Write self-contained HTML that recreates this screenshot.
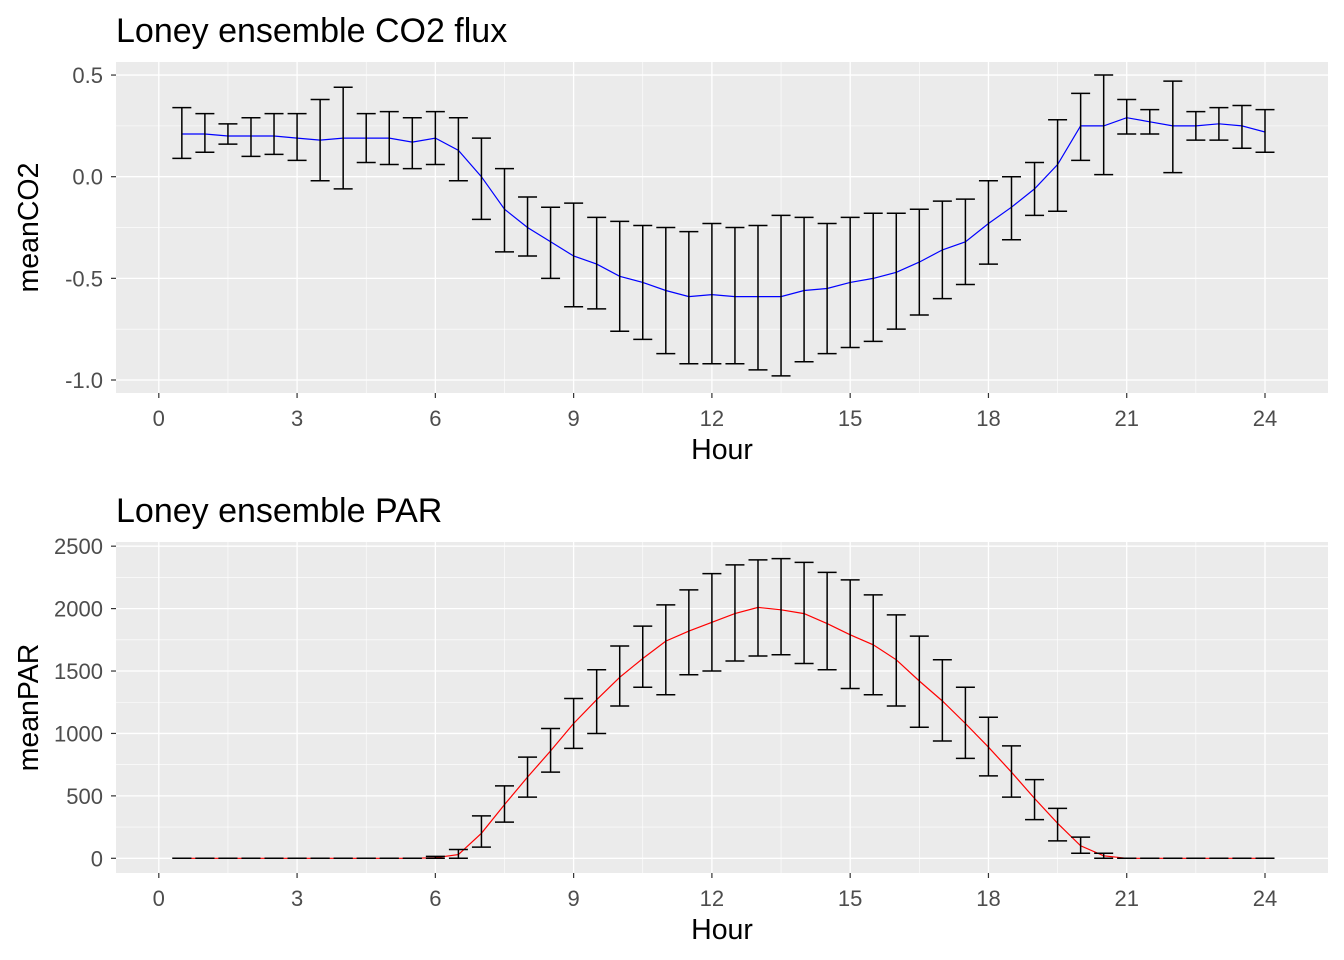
<!DOCTYPE html>
<html><head><meta charset="utf-8"><style>
html,body{margin:0;padding:0;background:#fff;}
svg{display:block;font-family:"Liberation Sans",Arial,sans-serif;}
</style></head><body>
<svg id="chart" width="1344" height="960"></svg>
<script>
const hours=[0.5,1,1.5,2,2.5,3,3.5,4,4.5,5,5.5,6,6.5,7,7.5,8,8.5,9,9.5,10,10.5,11,11.5,12,12.5,13,13.5,14,14.5,15,15.5,16,16.5,17,17.5,18,18.5,19,19.5,20,20.5,21,21.5,22,22.5,23,23.5,24];
const co2Mean=[0.21,0.21,0.20,0.20,0.20,0.19,0.18,0.19,0.19,0.19,0.17,0.19,0.13,0.0,-0.16,-0.25,-0.32,-0.39,-0.43,-0.49,-0.52,-0.56,-0.59,-0.58,-0.59,-0.59,-0.59,-0.56,-0.55,-0.52,-0.50,-0.47,-0.42,-0.36,-0.32,-0.23,-0.15,-0.06,0.06,0.25,0.25,0.29,0.27,0.25,0.25,0.26,0.25,0.22];
const co2Upper=[0.34,0.31,0.26,0.29,0.31,0.31,0.38,0.44,0.31,0.32,0.29,0.32,0.29,0.19,0.04,-0.10,-0.15,-0.13,-0.20,-0.22,-0.24,-0.25,-0.27,-0.23,-0.25,-0.24,-0.19,-0.20,-0.23,-0.20,-0.18,-0.18,-0.16,-0.12,-0.11,-0.02,0.00,0.07,0.28,0.41,0.50,0.38,0.33,0.47,0.32,0.34,0.35,0.33];
const co2Lower=[0.09,0.12,0.16,0.10,0.11,0.08,-0.02,-0.06,0.07,0.06,0.04,0.06,-0.02,-0.21,-0.37,-0.39,-0.50,-0.64,-0.65,-0.76,-0.80,-0.87,-0.92,-0.92,-0.92,-0.95,-0.98,-0.91,-0.87,-0.84,-0.81,-0.75,-0.68,-0.60,-0.53,-0.43,-0.31,-0.19,-0.17,0.08,0.01,0.21,0.21,0.02,0.18,0.18,0.14,0.12];
const parMean=[0,0,0,0,0,0,0,0,0,0,0,5,30,200,430,650,860,1080,1270,1450,1600,1740,1820,1890,1960,2010,1990,1960,1880,1790,1710,1590,1420,1260,1080,890,690,480,280,100,20,0,0,0,0,0,0,0];
const parUpper=[0,0,0,0,0,0,0,0,0,0,0,15,70,340,580,810,1040,1280,1510,1700,1860,2030,2150,2280,2350,2390,2400,2370,2290,2230,2110,1950,1780,1590,1370,1130,900,630,400,170,40,0,0,0,0,0,0,0];
const parLower=[0,0,0,0,0,0,0,0,0,0,0,0,0,90,290,490,690,880,1000,1220,1370,1310,1470,1500,1580,1620,1630,1560,1510,1360,1310,1220,1050,940,800,660,490,310,140,40,0,0,0,0,0,0,0,0];
const xTicks=[0,3,6,9,12,15,18,21,24];
const co2Ticks=[0.5,0,-0.5,-1.0];
const co2TickLabels=["0.5","0.0","-0.5","-1.0"];
const parTicks=[0,500,1000,1500,2000,2500];
const parTickLabels=["0","500","1000","1500","2000","2500"];

const NS="http://www.w3.org/2000/svg";
const svg=document.getElementById('chart');
function mk(tag,attrs,parent){const e=document.createElementNS(NS,tag);for(const k in attrs)e.setAttribute(k,attrs[k]);(parent||svg).appendChild(e);return e;}
const xs=h=>158.8+(1265-158.8)*h/24;

function panel(cfg){
  const g=mk('g',{});
  
  
  const L=116,R=1328,T=cfg.top,B=cfg.top+331;
  const bg=mk('rect',{x:L,y:T,width:R-L,height:B-T,fill:'#EBEBEB'},g);
  
  
  for(let i=0;i<cfg.ticks.length-1;i++){const v=(cfg.ticks[i]+cfg.ticks[i+1])/2;const y=cfg.ys(v);mk('line',{x1:L,x2:R,y1:y,y2:y,stroke:'#fff','stroke-width':0.6},g);}
  for(let i=0;i<xTicks.length-1;i++){const x=xs((xTicks[i]+xTicks[i+1])/2);mk('line',{x1:x,x2:x,y1:T,y2:B,stroke:'#fff','stroke-width':0.6},g);}
  cfg.ticks.forEach((v,i)=>{const y=cfg.ys(v);
    mk('line',{x1:L,x2:R,y1:y,y2:y,stroke:'#fff','stroke-width':1.3},g);
    mk('line',{x1:L-5,x2:L,y1:y,y2:y,stroke:'#333','stroke-width':1.2},g);
    const t=mk('text',{x:L-13,y:y+8,'text-anchor':'end','font-size':22,fill:'#4D4D4D'},g);t.textContent=cfg.labels[i];
    
    
  });
  xTicks.forEach(v=>{const x=xs(v);
    mk('line',{x1:x,x2:x,y1:T,y2:B,stroke:'#fff','stroke-width':1.3},g);
    mk('line',{x1:x,x2:x,y1:B,y2:B+5,stroke:'#333','stroke-width':1.2},g);
    const t=mk('text',{x:x,y:B+33,'text-anchor':'middle','font-size':22,fill:'#4D4D4D'},g);t.textContent=String(v);
    
    
  });
  const pts=hours.map((h,i)=>xs(h).toFixed(1)+','+cfg.ys(cfg.mean[i]).toFixed(1)).join(' ');
  const pl=mk('polyline',{points:pts,fill:'none',stroke:cfg.color,'stroke-width':1.2},g);
  
  
  hours.forEach((h,i)=>{const x=xs(h),yu=cfg.ys(cfg.upper[i]),yl=cfg.ys(cfg.lower[i]);
    const eg=mk('g',{stroke:'#000','stroke-width':1.5,fill:'none'},g);
    
    
    mk('line',{x1:x,x2:x,y1:yu,y2:yl},eg);
    mk('line',{x1:x-9.5,x2:x+9.5,y1:yu,y2:yu},eg);
    mk('line',{x1:x-9.5,x2:x+9.5,y1:yl,y2:yl},eg);
  });
  const ti=mk('text',{x:116,y:T-20,'font-size':34,fill:'#000'},g);ti.textContent=cfg.title;
  
  
  const xt=mk('text',{x:(L+R)/2,y:B+66,'text-anchor':'middle','font-size':28.5,fill:'#000'},g);xt.textContent='Hour';
  
  
  const yt=mk('text',{x:0,y:0,'text-anchor':'middle','font-size':28.5,fill:'#000',transform:'translate(38,'+((T+B)/2)+') rotate(-90)'},g);yt.textContent=cfg.ytitle;
  
  
}
panel({name:'co2-panel',top:62,ys:v=>176.7-v*203.3,ticks:co2Ticks,labels:co2TickLabels,mean:co2Mean,upper:co2Upper,lower:co2Lower,color:'#0000FF',lineName:'co2-line',title:'Loney ensemble CO2 flux',ytitle:'meanCO2'});
panel({name:'par-panel',top:542,ys:v=>858.3-v*0.12485,ticks:parTicks,labels:parTickLabels,mean:parMean,upper:parUpper,lower:parLower,color:'#FF0000',lineName:'par-line',title:'Loney ensemble PAR',ytitle:'meanPAR'});
</script>
</body></html>
